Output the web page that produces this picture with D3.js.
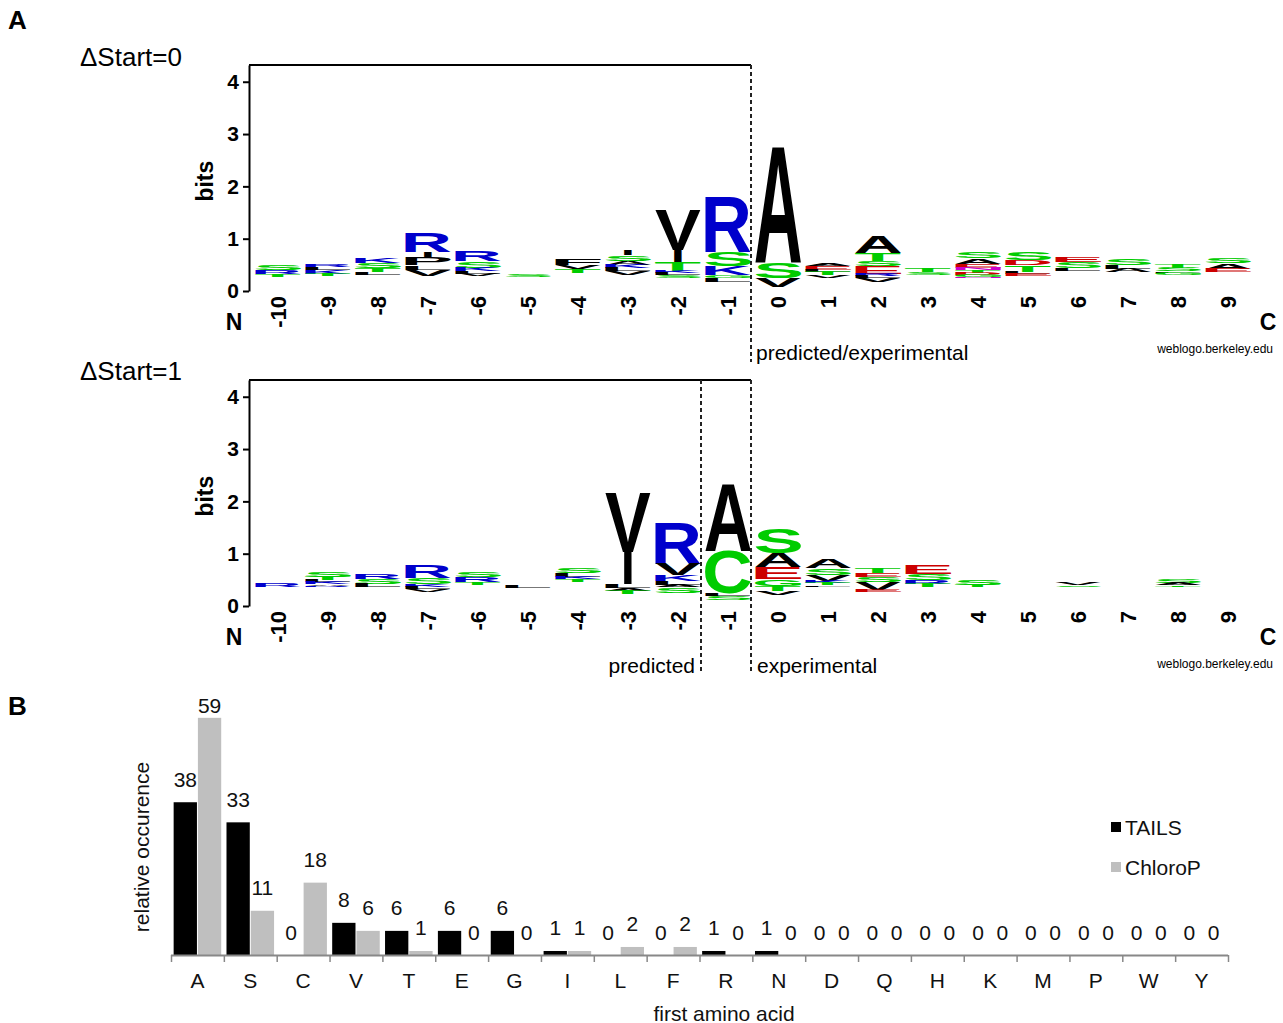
<!DOCTYPE html>
<html>
<head>
<meta charset="utf-8">
<script src="https://cdn.jsdelivr.net/npm/d3@7"></script>
<style>
  body { margin: 0; background: #fff; }
  text { font-family: 'Liberation Sans', Arial, Helvetica, sans-serif; }
</style>
</head>
<body>
<svg id="fig" width="1283" height="1023"></svg>
<script>
// ---- data: sequence logos (bits), letters listed top -> bottom for each position
const positions = d3.range(-10, 10);

// ΔStart=0 : stack height per position and the visible letters
const total0 = [0.50, 0.50, 0.63, 1.12, 0.76, 0.32, 0.61, 0.78, 1.54, 1.79,
                2.78, 0.53, 1.03, 0.44, 0.74, 0.74, 0.65, 0.63, 0.50, 0.63];
const stacks0 = [
  [["S",.10],["R",.08],["T",.05]],
  [["R",.05],["L",.05],["K",.07],["T",.05]],
  [["K",.09],["S",.10],["T",.08],["L",.05]],
  [["R",.37],["I",.12],["P",.14],["L",.08],["V",.12]],
  [["R",.19],["S",.13],["K",.06],["L",.05],["V",.05]],
  [["S",.05]],
  [["F",.12],["V",.07],["T",.08]],
  [["I",.10],["S",.10],["A",.08],["K",.06],["L",.06],["V",.07]],
  [["V",.76],["I",.23],["T",.16],["K",.05],["L",.04],["S",.05]],
  [["R",1.05],["S",.27],["K",.17],["G",.06],["L",.06]],
  [["A",2.23],["S",.30],["V",.18]],
  [["A",.05],["E",.07],["L",.05],["T",.06],["V",.05]],
  [["A",.31],["T",.15],["S",.10],["E",.15],["R",.04],["L",.04],["V",.06]],
  [["T",.08],["S",.05]],
  [["S",.12],["A",.10],["E",.08],["N",.04],["T",.05],["D",.04],["G",.04],["N",.03]],
  [["S",.15],["D",.10],["T",.13],["L",.04],["E",.04]],
  [["E",.10],["S",.12],["L",.04]],
  [["S",.13],["L",.08],["A",.06]],
  [["T",.06],["S",.06],["L",.03],["G",.04]],
  [["S",.10],["A",.10],["E",.06]]
];

// ΔStart=1
const total1 = [0.44, 0.65, 0.61, 0.78, 0.65, 0.40, 0.72, 2.15, 1.58, 2.36,
                1.49, 0.88, 0.72, 0.78, 0.50, 0, 0.44, 0, 0.50, 0];
const stacks1 = [
  [["R",.08]],
  [["S",.09],["T",.06],["L",.04],["K",.04],["A",.03],["R",.03]],
  [["R",.10],["S",.09],["L",.06]],
  [["R",.24],["S",.13],["K",.05],["L",.04],["V",.05]],
  [["S",.10],["R",.10],["T",.04]],
  [["L",.05]],
  [["S",.10],["L",.06],["K",.05],["T",.05]],
  [["V",1.12],["I",.61],["L",.08],["A",.05],["T",.07]],
  [["R",.77],["V",.22],["K",.12],["L",.07],["A",.04],["S",.11]],
  [["A",1.30],["C",.82],["L",.05],["S",.07]],
  [["S",.48],["A",.27],["E",.22],["G",.13],["T",.10],["V",.08]],
  [["A",.16],["S",.12],["V",.12],["K",.04],["T",.04],["L",.03]],
  [["T",.09],["E",.08],["S",.10],["V",.15],["E",.04]],
  [["E",.16],["S",.13],["R",.06],["T",.06]],
  [["S",.10],["T",.04]],
  [],
  [["V",.04],["S",.03]],
  [],
  [["S",.06],["A",.04],["T",.03]],
  []
];

// ---- data: first amino acid (panel B)
const aminoAcids = ["A","S","C","V","T","E","G","I","L","F","R","N","D","Q","H","K","M","P","W","Y"];
const tails   = [38, 33, 0, 8, 6, 6, 6, 1, 0, 0, 1, 1, 0, 0, 0, 0, 0, 0, 0, 0];
const chlorop = [59, 11, 18, 6, 1, 0, 0, 1, 2, 2, 0, 0, 0, 0, 0, 0, 0, 0, 0, 0];
const seriesNames = ["TAILS", "ChloroP"];

// weblogo colours
function letterColor(ch) {
  if ("AVLIPWFM".includes(ch)) return "#000000";
  if ("STGCY".includes(ch)) return "#00cc00";
  if ("KRH".includes(ch)) return "#0000cc";
  if ("DE".includes(ch)) return "#cc0000";
  return "#cc00cc";
}

const svg = d3.select("#fig");
const FONT = "'Liberation Sans', Arial, Helvetica, sans-serif";

// glyph ink box, measured once per letter
const ctx = document.createElement("canvas").getContext("2d");
ctx.font = "bold 100px 'Liberation Sans'";
const inkCache = {};
function ink(ch) {
  if (!inkCache[ch]) {
    const m = ctx.measureText(ch);
    inkCache[ch] = { l: m.actualBoundingBoxLeft, r: m.actualBoundingBoxRight,
                     a: m.actualBoundingBoxAscent, d: m.actualBoundingBoxDescent };
  }
  return inkCache[ch];
}

const xPos = d3.scaleBand().domain(positions).range([253, 1253])
  .paddingInner(0.08).paddingOuter(0.04);

function drawLogo(dy, totals, stacks) {
  const g = svg.append("g").attr("transform", "translate(0," + dy + ")");
  const y = d3.scaleLinear().domain([0, 4.32]).range([291, 65]);
  const pxPerBit = y(0) - y(1);

  // frame top line
  g.append("line").attr("x1", 249).attr("x2", xPos(0) - 4)
    .attr("y1", y(4.32)).attr("y2", y(4.32)).attr("stroke", "#000").attr("stroke-width", 2);

  const ax = g.append("g").attr("transform", "translate(249,0)")
    .call(d3.axisLeft(y).tickValues([0, 1, 2, 3, 4]).tickFormat(d3.format("d"))
      .tickSize(6).tickSizeOuter(0).tickPadding(4));
  ax.select(".domain").attr("stroke-width", 2);
  ax.selectAll(".tick line").attr("stroke-width", 2);
  ax.selectAll(".tick text").attr("font-family", FONT).attr("font-weight", "bold")
    .attr("font-size", 21).attr("fill", "#000");

  g.append("text").attr("transform", "translate(205," + y(2.1) + ") rotate(-90)")
    .attr("text-anchor", "middle").attr("dominant-baseline", "central")
    .attr("font-weight", "bold").attr("font-size", 23).text("bits");

  // letters
  positions.forEach(function (p, i) {
    let cursor = y(totals[i]);
    const x0 = xPos(p), w = xPos.bandwidth();
    stacks[i].forEach(function (d) {
      const h = d[1] * pxPerBit;
      cursor += h;
      const m = ink(d[0]);
      const inkW = m.l + m.r;
      const boxW = inkW < 30 ? 90 : inkW;   // the narrow I stays a thin stroke
      const sx = w / boxW, sy = h / (m.a + m.d);
      const shift = (boxW - inkW) / 2;
      g.append("text")
        .attr("transform", "translate(" + x0 + "," + cursor + ") scale(" + sx + "," + sy +
              ") translate(" + (m.l + shift) + "," + (-m.d) + ")")
        .attr("font-size", 100).attr("font-weight", "bold")
        .attr("fill", letterColor(d[0])).text(d[0]);
    });
  });

  // position labels
  g.selectAll(".pos").data(positions).enter().append("text")
    .attr("transform", function (d) { return "translate(" + (xPos(d) + xPos.bandwidth() / 2) + ",296) rotate(-90)"; })
    .attr("text-anchor", "end").attr("dominant-baseline", "central")
    .attr("font-weight", "bold").attr("font-size", 22).text(function (d) { return d; });

  g.append("text").attr("x", 234).attr("y", 322).attr("text-anchor", "middle")
    .attr("dominant-baseline", "central").attr("font-weight", "bold").attr("font-size", 23).text("N");
  g.append("text").attr("x", 1268).attr("y", 322).attr("text-anchor", "middle")
    .attr("dominant-baseline", "central").attr("font-weight", "bold").attr("font-size", 23).text("C");
  g.append("text").attr("x", 1273).attr("y", 349).attr("text-anchor", "end")
    .attr("dominant-baseline", "central").attr("font-size", 12).text("weblogo.berkeley.edu");
  return g;
}

function dashed(g, x, y1, y2) {
  g.append("line").attr("x1", x).attr("x2", x).attr("y1", y1).attr("y2", y2)
    .attr("stroke", "#222").attr("stroke-width", 2).attr("stroke-dasharray", "4,3");
}

// panel A
svg.append("text").attr("x", 8).attr("y", 20).attr("dominant-baseline", "central")
  .attr("font-weight", "bold").attr("font-size", 26).text("A");

svg.append("text").attr("x", 80).attr("y", 57).attr("dominant-baseline", "central")
  .attr("font-size", 26).text("ΔStart=0");
const g0 = drawLogo(0, total0, stacks0);
dashed(g0, xPos(0) - 4, 65, 362);
g0.append("text").attr("x", xPos(0) + 1).attr("y", 352).attr("dominant-baseline", "central")
  .attr("font-size", 21).text("predicted/experimental");

svg.append("text").attr("x", 80).attr("y", 371).attr("dominant-baseline", "central")
  .attr("font-size", 26).text("ΔStart=1");
const g1 = drawLogo(315, total1, stacks1);
dashed(g1, xPos(0) - 4, 65, 357);
dashed(g1, xPos(-1) - 4, 65, 357);
g1.append("text").attr("x", xPos(-1) - 10).attr("y", 350).attr("text-anchor", "end")
  .attr("dominant-baseline", "central").attr("font-size", 21).text("predicted");
g1.append("text").attr("x", xPos(0) + 2).attr("y", 350).attr("dominant-baseline", "central")
  .attr("font-size", 21).text("experimental");

// panel B
svg.append("text").attr("x", 8).attr("y", 706).attr("dominant-baseline", "central")
  .attr("font-weight", "bold").attr("font-size", 26).text("B");

const gb = svg.append("g");
const x0 = d3.scaleBand().domain(aminoAcids).range([171, 1228]).paddingInner(0.1).paddingOuter(0.05);
const x1 = d3.scaleBand().domain(seriesNames).range([0, x0.bandwidth()]).paddingInner(0.04);
const yb = d3.scaleLinear().domain([0, 60]).range([955, 713.8]);
const barColor = { TAILS: "#000000", ChloroP: "#bfbfbf" };

const rows = aminoAcids.map(function (a, i) { return { aa: a, vals: [tails[i], chlorop[i]] }; });
const grp = gb.selectAll(".aa").data(rows).enter().append("g")
  .attr("transform", function (d) { return "translate(" + x0(d.aa) + ",0)"; });

grp.selectAll("rect").data(function (d) { return d.vals.map(function (v, k) { return { s: seriesNames[k], v: v }; }); })
  .enter().append("rect")
  .attr("x", function (d) { return x1(d.s); }).attr("width", x1.bandwidth())
  .attr("y", function (d) { return yb(d.v); })
  .attr("height", function (d) { return yb(0) - yb(d.v); })
  .attr("fill", function (d) { return barColor[d.s]; });

grp.selectAll(".lbl").data(function (d) { return d.vals.map(function (v, k) { return { s: seriesNames[k], v: v }; }); })
  .enter().append("text")
  .attr("x", function (d) { return x1(d.s) + x1.bandwidth() / 2; })
  .attr("y", function (d) { return Math.max(yb(d.v) - 23, 705); })
  .attr("text-anchor", "middle").attr("dominant-baseline", "central")
  .attr("font-size", 21).attr("fill", "#111").text(function (d) { return d.v; });

// x axis with ticks at category boundaries
gb.append("line").attr("x1", 171).attr("x2", 1228).attr("y1", 955.5).attr("y2", 955.5)
  .attr("stroke", "#888").attr("stroke-width", 2);
const step = x0.step();
gb.selectAll(".tk").data(d3.range(aminoAcids.length + 1)).enter().append("line")
  .attr("x1", function (i) { return 171.5 + i * step; }).attr("x2", function (i) { return 171.5 + i * step; })
  .attr("y1", 955).attr("y2", 962).attr("stroke", "#888").attr("stroke-width", 1.5);
gb.selectAll(".cat").data(aminoAcids).enter().append("text")
  .attr("x", function (d) { return x0(d) + x0.bandwidth() / 2; }).attr("y", 980)
  .attr("text-anchor", "middle").attr("dominant-baseline", "central")
  .attr("font-size", 21).attr("fill", "#111").text(function (d) { return d; });

gb.append("text").attr("x", 724).attr("y", 1013).attr("text-anchor", "middle")
  .attr("dominant-baseline", "central").attr("font-size", 21).attr("fill", "#111").text("first amino acid");
gb.append("text").attr("transform", "translate(141,847) rotate(-90)").attr("text-anchor", "middle")
  .attr("dominant-baseline", "central").attr("font-size", 21).attr("fill", "#111").text("relative occurence");

// legend
seriesNames.forEach(function (s, k) {
  gb.append("rect").attr("x", 1111).attr("y", 822 + k * 40).attr("width", 10).attr("height", 10)
    .attr("fill", barColor[s]);
  gb.append("text").attr("x", 1125).attr("y", 827 + k * 40).attr("dominant-baseline", "central")
    .attr("font-size", 21).attr("fill", "#111").text(s);
});
</script>
</body>
</html>
